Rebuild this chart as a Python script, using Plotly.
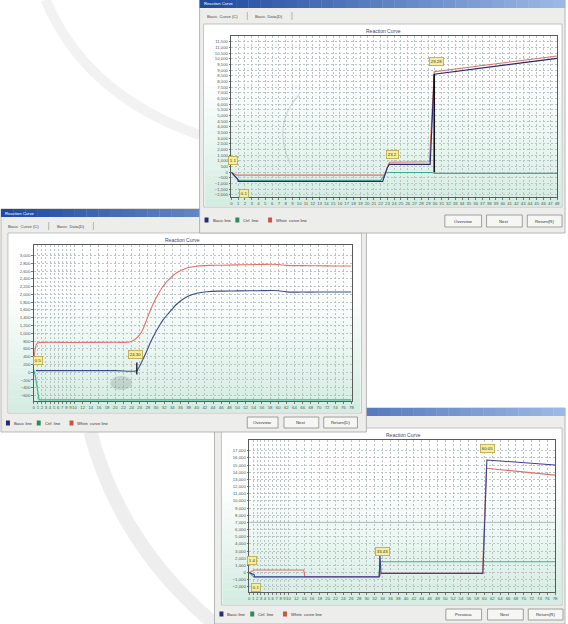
import plotly.graph_objects as go

W, H = 568, 624
FONT = "Liberation Sans"

# ---------------- data : window 1 (top right) ----------------
w1_basic_x = [0, 1, 1, 22.3, 23.0, 23.3, 29.3, 29.9, 48]
w1_basic_y = [0, -650, -800, -800, 450, 700, 700, 8650, 10050]
w1_marker_x = [29.9, 29.9]
w1_marker_y = [0, 8650]
w1_ctrl_x = [0, 1, 22.0, 22.8, 29.5, 30.0, 48]
w1_ctrl_y = [0, -700, -700, -20, -20, -100, -100]
w1_white_x = [0, 0.8, 22.6, 23.3, 29.2, 29.9, 48]
w1_white_y = [0, -250, -250, 880, 930, 8870, 10250]
w1_xticks = list(range(0, 49))
w1_yticks = list(range(-2000, 12000, 500))
w1_boxes = [(0.2, 1050, "1.1"), (1.8, -1880, "0.1"), (23.8, 1600, "23.2"), (30.2, 9800, "29.28")]

# ---------------- data : window 2 (middle left) ----------------
w2_white_x = [0, 0.8, 1.5, 10, 20, 23.5, 24.5, 25.5, 26.5, 27.5, 28.5, 29.5, 30.5, 31.5, 32.5,
              33.5, 35, 36.5, 38, 40, 43, 46, 50, 55, 60, 62, 66, 70, 74, 78]
w2_white_y = [300, 740, 760, 765, 770, 775, 820, 900, 1040, 1290, 1560, 1800, 2000, 2170, 2310,
              2420, 2550, 2630, 2690, 2725, 2745, 2750, 2760, 2770, 2770, 2745, 2740, 2735, 2730, 2730]
w2_basic_x = [0.5, 10, 20, 25.2, 25.8, 26.8, 27.8, 28.8, 29.8, 30.8, 31.8, 32.8, 33.8, 35, 36.5,
              38, 40, 42.5, 46, 50, 55, 60, 62, 66, 70, 78]
w2_basic_y = [40, 40, 40, 40, 120, 330, 560, 800, 1010, 1190, 1350, 1480, 1600, 1740, 1870,
              1960, 2030, 2070, 2085, 2090, 2095, 2095, 2065, 2060, 2060, 2060]
w2_marker_x = [25.3, 25.3]
w2_marker_y = [-60, 250]
w2_ctrl_x = [0, 0.4, 1.3, 78]
w2_ctrl_y = [60, -100, -710, -710]
w2_xticks = list(range(0, 10)) + list(range(10, 79, 2))
w2_yticks = list(range(-600, 3001, 200))
w2_boxes = [(1.1, 290, "0.5"), (25.0, 460, "24.30")]

# ---------------- data : window 3 (bottom right) ----------------
w3_basic_x = [0, 1.3, 1.3, 33.2, 33.3, 33.6, 59.6, 60.6, 78]
w3_basic_y = [0, -300, -570, -570, 2900, -100, -100, 15700, 15000]
w3_ctrl_x = [0, 1.3, 33.0, 33.4, 78]
w3_ctrl_y = [0, -650, -650, 1520, 1520]
w3_white_x = [0, 1.3, 13.9, 14.2, 33.2, 33.6, 59.5, 60.5, 78]
w3_white_y = [0, 360, 360, -570, -570, -100, -100, 14550, 13600]
w3_xticks = list(range(0, 10)) + list(range(10, 79, 2))
w3_yticks = list(range(-2000, 17001, 1000))
w3_threshold = 7000
w3_boxes = [(0.6, 1700, "1.4"), (1.7, -2080, "0.1"), (33.9, 3000, "33.43"), (60.8, 17250, "60.05")]

C_BASIC = "#26296e"
C_CTRL = "#3fae8c"
C_WHITE = "#e2716a"
legend_names = ["Basic line", "Ctrl  line", "White  curve line"]
legend_colors = ["#2a2a70", "#2e8b57", "#c8553d"]

shapes, annos = [], []


def hx(c):
    c = c.lstrip("#")
    return [int(c[i:i + 2], 16) for i in (0, 2, 4)]


def mix(c1, c2, t):
    a, b = hx(c1), hx(c2)
    return "#%02x%02x%02x" % tuple(int(round(a[i] + (b[i] - a[i]) * t)) for i in range(3))


def rect(x0, y0, x1, y1, fill=None, lc=None, lw=0, layer="below"):
    shapes.append(dict(type="rect", xref="paper", yref="paper",
                       x0=x0 / W, x1=x1 / W, y0=1 - y1 / H, y1=1 - y0 / H,
                       fillcolor=fill or "rgba(0,0,0,0)",
                       line=dict(color=lc or "rgba(0,0,0,0)", width=lw), layer=layer))


def line(x0, y0, x1, y1, color="#999", width=1, layer="below"):
    shapes.append(dict(type="line", xref="paper", yref="paper",
                       x0=x0 / W, x1=x1 / W, y0=1 - y0 / H, y1=1 - y1 / H,
                       line=dict(color=color, width=width), layer=layer))


def hgrad(x0, y0, x1, y1, c1, c2, n=30):
    step = (x1 - x0) / n
    for i in range(n):
        rect(x0 + i * step, y0, x0 + (i + 1) * step + 0.3, y1, fill=mix(c1, c2, i / (n - 1)))


def vgrad(x0, y0, x1, y1, c1, c2, n=24, start=0.3):
    step = (y1 - y0) / n
    for i in range(n):
        t = i / (n - 1)
        t = 0 if t < start else (t - start) / (1 - start)
        rect(x0, y0 + i * step, x1, y0 + (i + 1) * step + 0.3, fill=mix(c1, c2, t))


def text(px, py, s, size=4.6, color="#333", xanchor="left"):
    annos.append(dict(x=px / W, y=1 - py / H, xref="paper", yref="paper", text=s,
                      showarrow=False, font=dict(size=size, color=color, family=FONT),
                      xanchor=xanchor, yanchor="middle"))


def window(x0, y0, x1, y1, title=True, tab_y=None, panel=None, legend_y=None, buttons=()):
    rect(x0, y0, x1, y1, fill="#ededeb", lc="#a6a6a6", lw=0.8)
    hgrad(x0, y0, x1, y0 + 8, "#1e4aa0", "#9bb8e4")
    if title:
        text(x0 + 2, y0 + 4, "Reaction Curve", size=4.2, color="#ffffff")
    if tab_y is not None:
        text(x0 + 5, tab_y, "Basic  Curve (C)", size=4.2, color="#444")
        line(x0 + 48, tab_y - 4, x0 + 48, tab_y + 4, color="#999", width=0.7)
        text(x0 + 54, tab_y, "Basic  Data(D)", size=4.2, color="#444")
        line(x0 + 93, tab_y - 4, x0 + 93, tab_y + 4, color="#999", width=0.7)
    if panel:
        px0, py0, px1, py1 = panel
        rect(px0, py0, px1, py1, fill="#ffffff", lc="#b4b4b4", lw=0.8)
        vgrad(px0 + 1, py0 + 1, px1 - 1, py1 - 1, "#ffffff", "#d4ede3")
    if legend_y is not None:
        lx = x0 + 5
        offs = [0, 31, 64]
        for k in range(3):
            rect(lx + offs[k], legend_y - 2.5, lx + offs[k] + 4, legend_y + 2.5, fill=legend_colors[k])
            text(lx + offs[k] + 6, legend_y, legend_names[k], size=4.2, color="#333")
    for (bx0, by0, bx1, by1, lab) in buttons:
        rect(bx0, by0, bx1, by1, fill="#f6f6f4", lc="#8a8a8a", lw=0.8)
        text((bx0 + bx1) / 2, (by0 + by1) / 2, lab, size=4.3, color="#333", xanchor="center")


# faint background watermark swooshes
shapes.append(dict(type="path", xref="paper", yref="paper", layer="below",
                   path="M %f,%f Q %f,%f %f,%f" % (45 / W, 1, 85 / W, 1 - 95 / H, 200 / W, 1 - 135 / H),
                   line=dict(color="#f2f2f2", width=10)))
shapes.append(dict(type="path", xref="paper", yref="paper", layer="below",
                   path="M %f,%f Q %f,%f %f,%f" % (90 / W, 1 - 432 / H, 120 / W, 1 - 545 / H, 215 / W, 1 - 624 / H),
                   line=dict(color="#eeeeee", width=14)))

# window 3 (bottom) first, then window 2, then window 1 (top)
window(215, 408, 568, 624, title=False, tab_y=None, panel=(222, 428, 565, 605), legend_y=614,
       buttons=[(448, 609, 484, 620, "Previous"), (490, 609, 526, 620, "Next"), (531, 609, 566, 620, "Return(R)")])
window(0, 209, 368, 432, title=True, tab_y=226, panel=(7, 233, 363, 413), legend_y=423,
       buttons=[(248, 417, 279, 428, "Overview"), (285, 417, 320, 428, "Next"), (325, 417, 359, 428, "Return(D)")])
window(200, 0, 568, 233, title=True, tab_y=16, panel=(204, 24, 565, 207), legend_y=220,
       buttons=[(447, 215, 484, 227, "Overview"), (489, 215, 525, 227, "Next"), (530, 215, 565, 227, "Return(R)")])

# chart titles
text(385, 31, "Reaction Curve", size=5, color="#3a4a7a", xanchor="center")
text(183, 240, "Reaction Curve", size=5, color="#3a4a7a", xanchor="center")
text(405, 435, "Reaction Curve", size=5, color="#3a4a7a", xanchor="center")

# grey smudge seen on the middle chart (photo artefact)
shapes.append(dict(type="circle", xref="paper", yref="paper", layer="above",
                   x0=110 / W, x1=132 / W, y0=1 - 390 / H, y1=1 - 376 / H,
                   fillcolor="rgba(120,135,130,0.28)", line=dict(width=0)))
# faint grey arc seen on the top chart
shapes.append(dict(type="path", xref="paper", yref="paper", layer="above",
                   path="M %f,%f Q %f,%f %f,%f" % (300 / W, 1 - 95 / H, 272 / W, 1 - 125 / H, 292 / W, 1 - 165 / H),
                   line=dict(color="rgba(150,160,160,0.35)", width=1.2)))

fig = go.Figure()


def series(xs, ys, color, xa, ya, width=1.1, shape="linear"):
    fig.add_trace(go.Scatter(x=xs, y=ys, mode="lines", xaxis=xa, yaxis=ya, showlegend=False,
                             line=dict(color=color, width=width, shape=shape), hoverinfo="skip"))


series(w1_ctrl_x, w1_ctrl_y, C_CTRL, "x", "y")
series(w1_white_x, w1_white_y, C_WHITE, "x", "y")
series(w1_basic_x, w1_basic_y, C_BASIC, "x", "y")
series(w1_marker_x, w1_marker_y, "#111111", "x", "y", width=1.6)

series(w2_ctrl_x, w2_ctrl_y, C_CTRL, "x2", "y2")
series(w2_white_x, w2_white_y, C_WHITE, "x2", "y2", shape="spline")
series(w2_basic_x, w2_basic_y, "#3b4a88", "x2", "y2", shape="spline")
series(w2_marker_x, w2_marker_y, "#111111", "x2", "y2", width=1.3)

series(w3_ctrl_x, w3_ctrl_y, C_CTRL, "x3", "y3")
series(w3_white_x, w3_white_y, C_WHITE, "x3", "y3")
series(w3_basic_x, w3_basic_y, "#3a4290", "x3", "y3")

shapes.append(dict(type="line", xref="x3 domain", yref="y3", x0=0, x1=1, y0=w3_threshold, y1=w3_threshold,
                   line=dict(color="#a3abab", width=0.9), layer="below"))

for boxes, xr, yr in ((w1_boxes, "x", "y"), (w2_boxes, "x2", "y2"), (w3_boxes, "x3", "y3")):
    for bx, by, lab in boxes:
        annos.append(dict(x=bx, y=by, xref=xr, yref=yr, text=lab, showarrow=False,
                          font=dict(size=4.3, color="#333", family=FONT),
                          bgcolor="#f6ee9c", bordercolor="#b9a644", borderwidth=0.8, borderpad=1))

GRID = "#b9c3c3"
GDASH = "2px,2px"


def axis_x(domain, rng, ticks, anchor):
    return dict(domain=domain, range=rng, tickmode="array", tickvals=ticks, anchor=anchor,
                tickangle=0, tickfont=dict(size=4.3, color="#555", family=FONT), showgrid=True,
                gridcolor=GRID, griddash=GDASH, gridwidth=0.6, showline=True, linecolor="#5a5a5a",
                linewidth=1, mirror=True, zeroline=False, ticks="outside", ticklen=1.5,
                tickcolor="#777", fixedrange=True)


def axis_y(domain, rng, ticks, anchor):
    return dict(domain=domain, range=rng, tickmode="array", tickvals=ticks, anchor=anchor,
                tickformat=",d", tickfont=dict(size=4.3, color="#555", family=FONT), showgrid=True,
                gridcolor=GRID, griddash=GDASH, gridwidth=0.6, showline=True, linecolor="#5a5a5a",
                linewidth=1, mirror=True, zeroline=False, ticks="outside", ticklen=1.5,
                tickcolor="#777", fixedrange=True)


fig.update_layout(
    width=W, height=H, margin=dict(l=0, r=0, t=0, b=0),
    paper_bgcolor="#ffffff", plot_bgcolor="rgba(0,0,0,0)",
    font=dict(family=FONT),
    xaxis=axis_x([232 / W, 560 / W], [0, 48], w1_xticks, "y"),
    yaxis=axis_y([1 - 197 / H, 1 - 36 / H], [-2180, 12020], w1_yticks, "x"),
    xaxis2=axis_x([33 / W, 353 / W], [0, 78], w2_xticks, "y2"),
    yaxis2=axis_y([1 - 401 / H, 1 - 245 / H], [-740, 3270], w2_yticks, "x2"),
    xaxis3=axis_x([250 / W, 558 / W], [0, 78], w3_xticks, "y3"),
    yaxis3=axis_y([1 - 592 / H, 1 - 440 / H], [-2700, 18490], w3_yticks, "x3"),
    shapes=shapes, annotations=annos,
)

fig.write_html("out.html", config={"displayModeBar": False},
               post_script="document.body.style.margin='0';document.body.style.overflow='hidden';")
